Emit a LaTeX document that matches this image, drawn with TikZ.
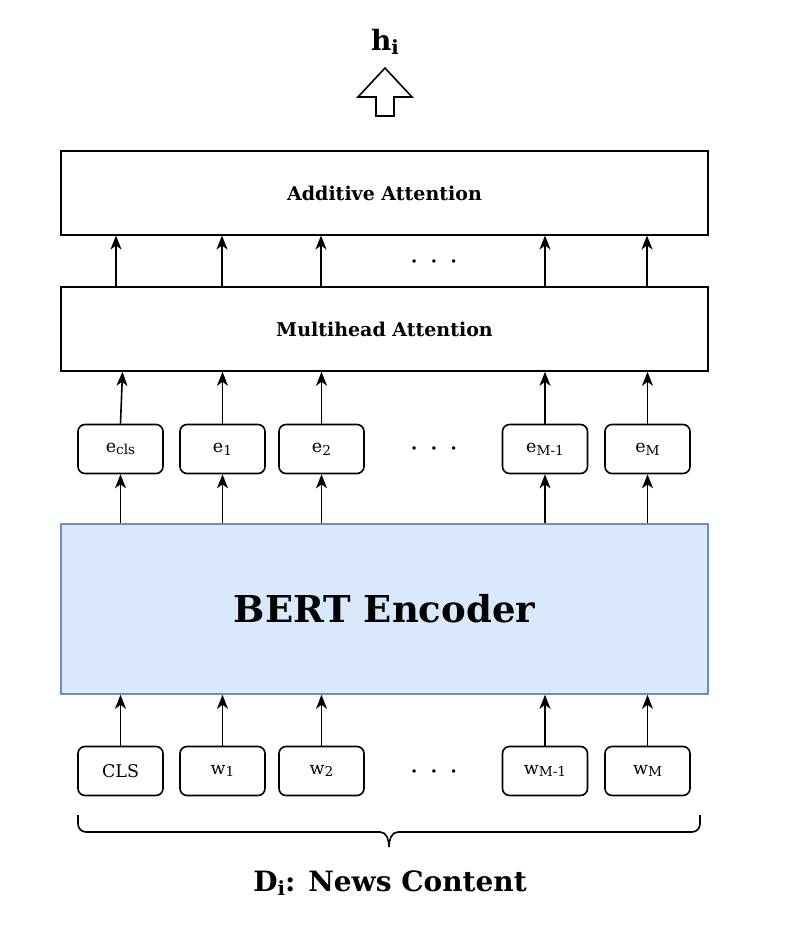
\documentclass[tikz,border=0pt]{standalone}
\usepackage{fontspec}
\setmainfont{DejaVu Serif}
\usetikzlibrary{arrows.meta}
\definecolor{bertborder}{HTML}{6C8EBF}
\definecolor{bertfill}{HTML}{DAE8FC}
\newcommand{\lowsub}[2][0.78]{\raisebox{-0.3ex}{\scalebox{#1}{#2}}}
\tikzset{
  bigbox/.style={draw=black, line width=1.6pt, minimum width=647pt, inner sep=0pt},
  tokbox/.style={draw=black, line width=1.6pt, rounded corners=7pt, minimum width=85pt, minimum height=49pt, inner sep=0pt, font=\fontsize{17.5}{20}\selectfont},
  uparr/.style={line width=1.6pt, -{Stealth[length=14pt,width=11pt,inset=4pt]}},
  dotlbl/.style={font=\fontsize{26}{28}\selectfont},
}
\newcommand{\threedots}{\textperiodcentered\hspace{11.5pt}\textperiodcentered\hspace{11.5pt}\textperiodcentered}
\begin{document}
\begin{tikzpicture}[x=1pt,y=-1pt]
\useasboundingbox (0,0) rectangle (798,932);
% top output
\node (h) at (385,42) {\fontsize{28}{32}\selectfont\bfseries h\lowsub[0.7]{i}};
\draw[line width=1.6pt, line join=miter] (385,68) -- (412,97) -- (394,97) -- (394,116) -- (376,116) -- (376,97) -- (358,97) -- cycle;
% boxes
\node[bigbox, minimum height=84pt, font=\fontsize{19}{22}\selectfont\bfseries] (add) at (384.5,193) {Additive Attention};
\node[bigbox, minimum height=84pt, font=\fontsize{19}{22}\selectfont\bfseries] (mha) at (384.5,329) {Multihead Attention};
\node[draw=bertborder, fill=bertfill, line width=1.6pt, minimum width=647pt, minimum height=170pt, inner sep=0pt, font=\fontsize{37}{44}\selectfont\bfseries] (bert) at (384.5,609) {BERT Encoder};
% e boxes
\node[tokbox] (ecls) at (120.5,449) {e\lowsub{cls}};
\node[tokbox] (e1) at (222.5,449) {e\lowsub{1}};
\node[tokbox] (e2) at (321.5,449) {e\lowsub{2}};
\node[tokbox] (eM1) at (545,449) {e\lowsub{M-1}};
\node[tokbox] (eM) at (647.5,449) {e\lowsub{M}};
% w boxes
\node[tokbox] (cls) at (120.5,771) {CLS};
\node[tokbox] (w1) at (222.5,771) {w\lowsub{1}};
\node[tokbox] (w2) at (321.5,771) {w\lowsub{2}};
\node[tokbox] (wM1) at (545,771) {w\lowsub{M-1}};
\node[tokbox] (wM) at (647.5,771) {w\lowsub{M}};
% dots
\node[dotlbl] (d1) at (434,265) {\threedots};
\node[dotlbl] (d2) at (434,452) {\threedots};
\node[dotlbl] (d3) at (434,775) {\threedots};
% arrows w -> bert
\foreach \n in {cls,w1,w2,wM1,wM} {\draw[uparr] (\n.north) -- (\n.north |- bert.south);}
% arrows bert -> e
\foreach \n in {ecls,e1,e2,eM1,eM} {\draw[uparr] (\n.south |- bert.north) -- (\n.south);}
% arrows e -> mha
\draw[uparr] (ecls.north) -- ([xshift=2pt]ecls.north |- mha.south);
\foreach \n in {e1,e2,eM1,eM} {\draw[uparr] (\n.north) -- (\n.north |- mha.south);}
% arrows mha -> add
\foreach \x in {116,222,321,545,647} {\draw[uparr] (\x,285.5) -- (\x,235.5);}
% brace
\coordinate (bl) at (78,815);
\coordinate (br) at (700,815);
\coordinate (bt) at (389,847);
\draw[line width=1.6pt] (bl) -- (78,824) to[out=-90,in=180] (86,832) -- (380,832) to[out=0,in=90] (bt);
\draw[line width=1.6pt] (br) -- (700,824) to[out=-90,in=0] (692,832) -- (398,832) to[out=180,in=90] (bt);
\node (D) at (390,883) {\fontsize{28}{32}\selectfont\bfseries D\lowsub[0.7]{i}: News Content};
\end{tikzpicture}
\end{document}
